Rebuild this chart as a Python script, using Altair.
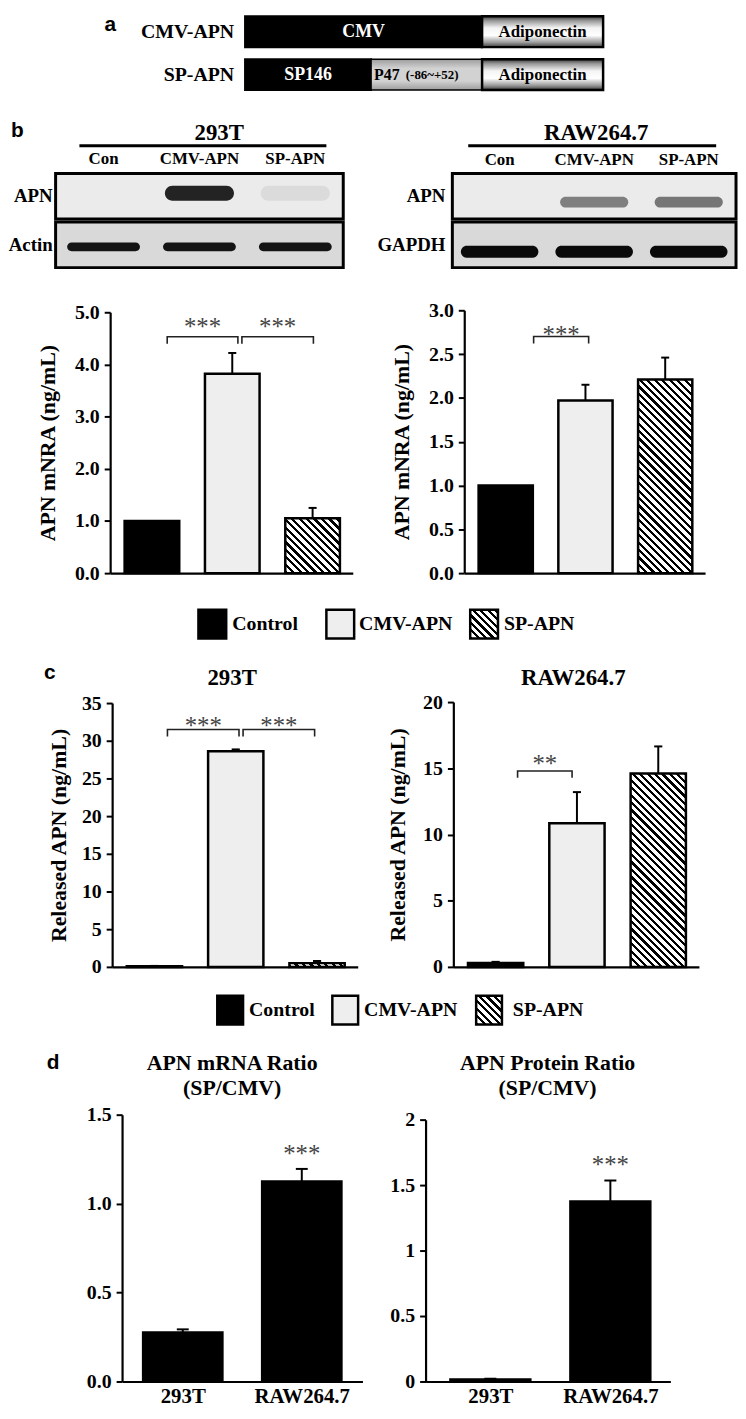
import altair as alt
import numpy as np
import pandas as pd

# ----------------------------- data -----------------------------
GROUPS = ["Control", "CMV-APN", "SP-APN"]
LANES = ["Con", "CMV-APN", "SP-APN"]
CELLS = ["293T", "RAW264.7"]
CONSTRUCTS = ["CMV-APN", "SP-APN"]

# (a) constructs: relative segment lengths
cmv_parts = ["CMV", "Adiponectin"]
cmv_lengths = [0.662, 0.338]
sp_parts = ["SP146", "P47", "Adiponectin"]
sp_lengths = [0.352, 0.310, 0.338]

# (b) western blot band intensities (0 = no band, 1 = black)
blot_293t_apn = [0.00, 0.85, 0.05]
blot_293t_actin = [0.93, 0.93, 0.93]
blot_raw_apn = [0.00, 0.42, 0.46]
blot_raw_gapdh = [0.97, 0.97, 0.97]

# (b) APN mRNA
mrna_293t = [1.00, 3.82, 1.05]
mrna_293t_err = [0.00, 0.40, 0.20]
mrna_raw = [1.00, 1.97, 2.21]
mrna_raw_err = [0.00, 0.18, 0.25]

# (c) released APN
rel_293t = [0.10, 28.6, 0.50]
rel_293t_err = [0.03, 0.25, 0.28]
rel_raw = [0.30, 10.85, 14.6]
rel_raw_err = [0.08, 2.35, 2.05]

# (d) ratios SP/CMV
ratio_mrna = [0.275, 1.125]
ratio_mrna_err = [0.018, 0.070]
ratio_prot = [0.015, 1.375]
ratio_prot_err = [0.006, 0.160]

# significance annotations: (from, to, label, bracket level, star level, left off, right off)
sig_mrna_293t = [(0, 1, "***", 4.53, 4.79, 0.19, 0.07), (1, 2, "***", 4.53, 4.79, 0.12, 0.01)]
sig_mrna_raw = [(0, 1, "***", 2.70, 2.76, 0.35, 0.04)]
sig_rel_293t = [(0, 1, "***", 31.5, 32.5, 0.16, 0.04), (1, 2, "***", 31.5, 32.5, 0.09, -0.03)]
sig_rel_raw = [(0, 1, "**", 14.8, 15.6, 0.27, -0.06)]
sig_ratio_mrna = [(1, 1, "***", None, 1.30, 0, 0)]
sig_ratio_prot = [(1, 1, "***", None, 1.68, 0, 0)]

# ----------------------------- style -----------------------------
W = 734
SERIF = "Liberation Serif"
SANS = "Liberation Sans"
FILLS = {"Control": "#000000", "CMV-APN": "#eeeeee", "SP-APN": "hatch",
         "293T": "#000000", "RAW264.7": "#000000"}
BLOT_BG = ["#ebebeb", "#d9d9d9"]
BAND_STYLE = {  # half-width (lanes), thickness px, y offset px
    "293T-APN": (0.36, 15, -3), "293T-Actin": (0.38, 9, 2),
    "RAW-APN": (0.36, 11, 6), "RAW-GAPDH": (0.41, 12, 7),
}


def GS(o, c):
    return alt.GradientStop(offset=o, color=c)


ADIPO_GRAD = alt.LinearGradient(gradient="linear", x1=0, y1=0, x2=0, y2=1, stops=[
    GS(0, "#3a3a3a"), GS(0.15, "#9a9a9a"), GS(0.38, "#f4f4f4"), GS(0.62, "#ffffff"),
    GS(0.85, "#9a9a9a"), GS(1, "#3a3a3a")])
P47_GRAD = alt.LinearGradient(gradient="linear", x1=0, y1=0, x2=0, y2=1, stops=[
    GS(0, "#9c9c9c"), GS(0.3, "#d2d2d2"), GS(0.7, "#d2d2d2"), GS(1, "#9c9c9c")])


def hatch(w, h, period=7.5, ink=3.2):
    w = max(float(w), 1.0)
    h = max(float(h), 1.0)
    total = w + h
    k = total / (w * w + h * h)
    stops = []
    i = 0
    while i * period < total:
        a = i * period / total
        b = min((i * period + ink) / total, 1.0)
        c = min((i + 1) * period / total, 1.0)
        stops += [(a, "#000000"), (b, "#000000"), (b, "#ffffff"), (c, "#ffffff")]
        i += 1
    return alt.LinearGradient(gradient="linear", x1=0, y1=1, x2=round(k * w, 5), y2=round(1 - k * h, 5),
                              stops=[GS(round(o, 5), c) for o, c in stops])


def txt(text, x, y, size, font=SERIF, align="center", baseline="middle", color="black"):
    return alt.Chart(pd.DataFrame({"t": [text]})).mark_text(
        font=font, fontSize=size, fontWeight="bold", align=align, baseline=baseline, color=color
    ).encode(x=alt.value(x), y=alt.value(y), text="t:N")


def hline(x1, x2, y, w=3):
    return alt.Chart(pd.DataFrame({"k": [0]})).mark_rule(color="black", strokeWidth=w).encode(
        x=alt.value(x1), x2=alt.value(x2), y=alt.value(y))


def box(x1, x2, y1, y2, fill):
    return alt.Chart(pd.DataFrame({"k": [0]})).mark_rect(fill=fill, stroke="black", strokeWidth=2.5).encode(
        x=alt.value(x1), x2=alt.value(x2), y=alt.value(y1), y2=alt.value(y2))


def row(units, h):
    return alt.layer(*units).resolve_scale(x="independent", y="independent").properties(width=W, height=h)


# ----------------------------- panel a -----------------------------
def construct_panel():
    rows = []
    for name, parts, lens in ((CONSTRUCTS[0], cmv_parts, cmv_lengths), (CONSTRUCTS[1], sp_parts, sp_lengths)):
        s = 0.0
        for p, l in zip(parts, lens):
            rows.append({"construct": name, "part": p, "start": s, "end": s + l, "mid": s + l / 2})
            s += l
    df = pd.DataFrame(rows)
    xs = alt.Scale(domain=[0, 1], range=[238, 599], nice=False, zero=False)
    ys = alt.Scale(type="band", domain=CONSTRUCTS, range=[1.5, 76], paddingInner=0.28, paddingOuter=0)
    Y = alt.Y("construct:N", scale=ys, axis=None)
    XS = alt.X("start:Q", scale=xs, axis=None)
    XM = alt.X("mid:Q", scale=xs, axis=None)
    dark = df[df.part.isin(["CMV", "SP146"])]
    p47 = df[df.part == "P47"]
    adipo = df[df.part == "Adiponectin"]
    return [
        alt.Chart(dark).mark_rect(fill="black", stroke="black", strokeWidth=2).encode(x=XS, x2="end:Q", y=Y),
        alt.Chart(p47).mark_rect(fill=P47_GRAD, stroke="black", strokeWidth=1.5).encode(x=XS, x2="end:Q", y=Y),
        alt.Chart(adipo).mark_rect(fill=ADIPO_GRAD, stroke="black", strokeWidth=2.5).encode(x=XS, x2="end:Q", y=Y),
        alt.Chart(dark).mark_text(color="white", font=SERIF, fontWeight="bold", fontSize=18).encode(
            x=XM, y=Y, text="part:N"),
        alt.Chart(adipo).mark_text(color="black", font=SERIF, fontWeight="bold", fontSize=17).encode(
            x=XM, y=Y, text="part:N"),
        alt.Chart(p47).mark_text(color="black", font=SERIF, fontWeight="bold", fontSize=16, align="left", dx=3).encode(
            x=XS, y=Y, text="part:N"),
        alt.Chart(p47).mark_text(color="black", font=SERIF, fontWeight="bold", fontSize=13, align="left", dx=35).encode(
            x=XS, y=Y, text=alt.value("(-86~+52)")),
        alt.Chart(pd.DataFrame({"construct": CONSTRUCTS})).mark_text(
            color="black", font=SERIF, fontWeight="bold", fontSize=20, align="right").encode(
            x=alt.value(227), y=Y, text="construct:N"),
    ]


# ----------------------------- blots -----------------------------
def blot_panel(key, probes, intens, xr, label_x, lane_y):
    xs = alt.Scale(domain=[-0.5, 2.5], range=xr, nice=False, zero=False)
    ys = alt.Scale(type="band", domain=probes, range=[70, 165], paddingInner=0.065, paddingOuter=0)
    cs = alt.Scale(domain=[0, 1], range=["#e8e8e8", "#000000"])
    Y = alt.Y("probe:N", scale=ys, axis=None)
    units = []
    for p, bg in zip(probes, BLOT_BG):
        fdf = pd.DataFrame({"probe": [p], "x0": [-0.5], "x1": [2.5]})
        units.append(alt.Chart(fdf).mark_rect(fill=bg, stroke="black", strokeWidth=3).encode(
            x=alt.X("x0:Q", scale=xs, axis=None), x2="x1:Q", y=Y))
    for p, vals in zip(probes, intens):
        hwid, th, off = BAND_STYLE[f"{key}-{p}"]
        bdf = pd.DataFrame({"probe": [p] * 3, "lane": [0, 1, 2], "inten": vals})
        bdf = bdf[bdf.inten > 0].copy()
        bdf["a"] = bdf.lane - hwid
        bdf["b"] = bdf.lane + hwid
        units.append(alt.Chart(bdf).mark_bar(orient="horizontal", size=th, yOffset=off,
                                             cornerRadius=th / 2).encode(
            x=alt.X("a:Q", scale=xs, axis=None), x2="b:Q", y=Y,
            fill=alt.Fill("inten:Q", scale=cs, legend=None)))
    ldf = pd.DataFrame({"lane": [0, 1, 2], "name": LANES})
    units.append(alt.Chart(ldf).mark_text(font=SERIF, fontWeight="bold", fontSize=17, color="black").encode(
        x=alt.X("lane:Q", scale=xs, axis=None), y=alt.value(lane_y), text="name:N"))
    pdf = pd.DataFrame({"probe": probes})
    units.append(alt.Chart(pdf).mark_text(font=SERIF, fontWeight="bold", fontSize=19, align="right",
                                          color="black").encode(
        x=alt.value(label_x), y=Y, text="probe:N"))
    return units


# ----------------------------- bar panels -----------------------------
def bar_panel(cats, vals, errs, xr, xdom, yr, ydom, yticks, yfmt, ytitle, row_h, hw, sig,
              title_pad=14, xlabels=False):
    n = len(cats)
    df = pd.DataFrame({"cat": cats, "val": vals, "err": errs, "pos": list(range(n))})
    df["fill"] = [FILLS[c] for c in cats]
    df["lo"] = df.pos - hw
    df["hi"] = df.pos + hw
    df["top"] = df.val + df.err
    df["cl"] = df.pos - 0.05
    df["cr"] = df.pos + 0.05
    df["zero"] = 0.0
    ppx = (xr[1] - xr[0]) / (xdom[1] - xdom[0])
    ppy = (yr[0] - yr[1]) / (ydom[1] - ydom[0])
    xs = alt.Scale(domain=xdom, range=xr, nice=False, zero=False)
    ys = alt.Scale(domain=ydom, range=yr, nice=False, zero=False)

    xaxis_kw = dict(orient="bottom", offset=-(row_h - yr[0]), domain=True, domainColor="black",
                    domainWidth=2.2, ticks=False, grid=False, labels=xlabels, title="")
    if xlabels:
        arr = "[" + ",".join(f"'{c}'" for c in cats) + "]"
        xaxis_kw.update(values=list(range(n)), labelExpr=f"{arr}[datum.value]", labelFont=SERIF,
                        labelFontSize=21, labelFontWeight="bold", labelColor="black", labelPadding=4,
                        labelFlush=False)
    yaxis_kw = dict(orient="left", offset=-xr[0], values=yticks, format=yfmt, domain=True,
                    domainColor="black", domainWidth=2.2, ticks=True, tickColor="black", tickWidth=2,
                    tickSize=6, labelFont=SERIF, labelFontSize=20, labelFontWeight="bold",
                    labelColor="black", labelPadding=5, grid=False, labelFlush=False, title="")
    if ytitle:
        yaxis_kw.update(title=ytitle, titleFont=SERIF, titleFontSize=22, titleFontWeight="bold",
                        titleColor="black", titlePadding=title_pad)

    X = lambda f: alt.X(f + ":Q", scale=xs, axis=None)
    Yq = lambda f: alt.Y(f + ":Q", scale=ys, axis=None)

    # axis carrier (invisible) drawn first
    units = [alt.Chart(df).mark_point(opacity=0, size=1).encode(
        x=alt.X("pos:Q", scale=xs, axis=alt.Axis(**xaxis_kw)),
        y=alt.Y("val:Q", scale=ys, axis=alt.Axis(**yaxis_kw)))]
    for _, r in df.iterrows():
        rd = pd.DataFrame([r])
        if r.fill == "hatch":
            mk = alt.Chart(rd).mark_rect(fill=hatch(2 * hw * ppx, r.val * ppy), stroke="black", strokeWidth=2.5)
        else:
            mk = alt.Chart(rd).mark_rect(fill=r.fill, stroke="black", strokeWidth=2.5)
        units.append(mk.encode(x=X("lo"), x2="hi:Q", y=Yq("val"), y2="zero:Q"))
    e = df[df.err > 0]
    units.append(alt.Chart(e).mark_rule(color="black", strokeWidth=2).encode(
        x=X("pos"), y=Yq("val"), y2="top:Q"))
    units.append(alt.Chart(e).mark_rule(color="black", strokeWidth=2).encode(
        x=X("cl"), x2="cr:Q", y=Yq("top")))

    pts, stars = [], []
    drop = 7.0 / ppy
    for k, (i, j, lab, lvl, slvl, dl, dr) in enumerate(sig):
        if lvl is not None:
            xl, xr_ = i + dl, j + dr
            pts += [{"b": k, "o": 0, "x": xl, "y": lvl - drop}, {"b": k, "o": 1, "x": xl, "y": lvl},
                    {"b": k, "o": 2, "x": xr_, "y": lvl}, {"b": k, "o": 3, "x": xr_, "y": lvl - drop}]
            stars.append({"x": (xl + xr_) / 2, "y": slvl, "s": lab})
        else:
            stars.append({"x": float(i), "y": slvl, "s": lab})
    if pts:
        units.append(alt.Chart(pd.DataFrame(pts)).mark_line(color="#222222", strokeWidth=1.6).encode(
            x=X("x"), y=Yq("y"), detail="b:N", order="o:Q"))
    units.append(alt.Chart(pd.DataFrame(stars)).mark_text(
        font=SERIF, fontSize=25, color="#444444", baseline="middle", dy=4).encode(
        x=X("x"), y=Yq("y"), text="s:N"))
    return units


def legend_row(sw_x, sw_w, sw_y0, sw_y1, txt_x, txt_y, h):
    L = []
    for g, sx, tx in zip(GROUPS, sw_x, txt_x):
        f = FILLS[g]
        fill = hatch(sw_w, sw_y1 - sw_y0) if f == "hatch" else f
        L.append(box(sx, sx + sw_w, sw_y0, sw_y1, fill))
        L.append(txt(g, tx, txt_y, 20, align="left"))
    return alt.layer(*L).properties(width=W, height=h)


# ----------------------------- rows -----------------------------
row_a = row(construct_panel() + [txt("a", 102, 10.5, 21, font=SANS)], 90)

row_b1 = row(
    blot_panel("293T", ["APN", "Actin"], [blot_293t_apn, blot_293t_actin], [47, 337], 44, 56)
    + blot_panel("RAW", ["APN", "GAPDH"], [blot_raw_apn, blot_raw_gapdh], [447, 733], 440, 57)
    + [txt("b", 2, 27, 21, font=SANS, align="left"),
       txt("293T", 212, 29, 23), txt("RAW264.7", 592, 29, 23),
       hline(71, 320, 42), hline(463, 713, 42)],
    172)

row_b2 = row(
    bar_panel(GROUPS, mrna_293t, mrna_293t_err, [102, 346.6], [-0.52, 2.5], [301, 38], [0, 5],
              [0, 1, 2, 3, 4, 5], ".1f", "APN mNRA (ng/mL)", 320, 0.34, sig_mrna_293t, title_pad=15)
    + bar_panel(GROUPS, mrna_raw, mrna_raw_err, [459, 701.8], [-0.52, 2.5], [301, 36], [0, 3],
                [0, 0.5, 1, 1.5, 2, 2.5, 3], ".1f", "APN mNRA (ng/mL)", 320, 0.34, sig_mrna_raw, title_pad=15),
    320)

row_l1 = legend_row([191, 320, 465], 28, 18, 47, [225, 353, 499], 32, 60)

row_c = row(
    bar_panel(GROUPS, rel_293t, rel_293t_err, [104, 351.6], [-0.52, 2.5], [318, 52], [0, 35],
              [0, 5, 10, 15, 20, 25, 30, 35], "d", "Released APN (ng/mL)", 335, 0.34, sig_rel_293t,
              title_pad=11)
    + bar_panel(GROUPS, rel_raw, rel_raw_err, [448, 695.6], [-0.52, 2.5], [318, 51], [0, 20],
                [0, 5, 10, 15, 20], "d", "Released APN (ng/mL)", 335, 0.34, sig_rel_raw, title_pad=13)
    + [txt("c", 41, 22, 21, font=SANS),
       txt("293T", 225, 27, 23), txt("RAW264.7", 569, 27, 23)],
    335)

row_l2 = legend_row([210, 326, 471], 26, 12, 41, [242, 358, 508], 27, 50)

row_d = row(
    bar_panel(CELLS, ratio_mrna, ratio_mrna_err, [114, 356.4], [-0.51, 1.51], [351, 82], [0, 1.5],
              [0, 0.5, 1.0, 1.5], ".1f", None, 376, 0.333, sig_ratio_mrna, xlabels=True)
    + bar_panel(CELLS, ratio_prot, ratio_prot_err, [420, 666.8], [-0.54, 1.5], [351, 87], [0, 2],
                [0, 0.5, 1, 1.5, 2], ".1~f", None, 376, 0.333, sig_ratio_prot, xlabels=True)
    + [txt("d", 44.5, 30, 21, font=SANS),
       txt("APN mRNA Ratio", 225, 30, 22), txt("(SP/CMV)", 225, 55, 22),
       txt("APN Protein Ratio", 543, 30, 22), txt("(SP/CMV)", 543, 55, 22)],
    376)

chart = alt.vconcat(row_a, row_b1, row_b2, row_l1, row_c, row_l2, row_d, spacing=0, bounds="flush")
chart = chart.properties(padding=0).configure_view(strokeWidth=0)

chart.save("out.html", embed_options={"renderer": "svg", "actions": False})
